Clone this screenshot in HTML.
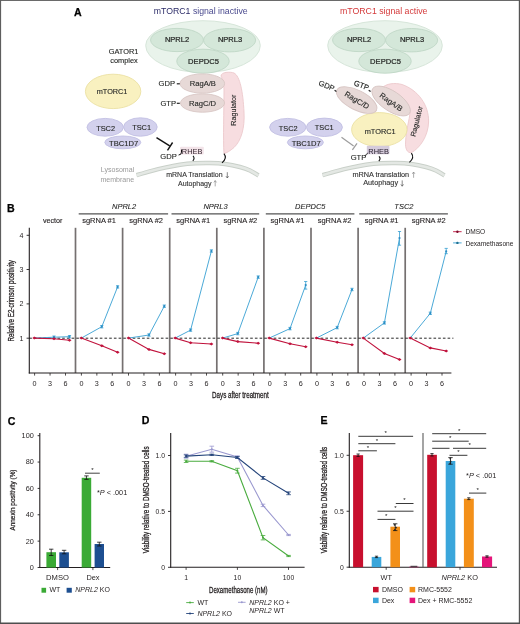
<!DOCTYPE html>
<html><head><meta charset="utf-8"><style>
html,body{margin:0;padding:0;background:#fff;}
svg{display:block;font-family:"Liberation Sans", sans-serif;will-change:transform;}
</style></head><body>
<svg width="520" height="624" viewBox="0 0 520 624">
<rect x="0" y="0" width="520" height="624" fill="#fff"/>
<text x="74.0" y="15.8" font-size="10.6" text-anchor="start" fill="#000" stroke="#000" stroke-width="0.25" font-weight="bold" >A</text>
<text x="153.8" y="14.2" font-size="8.72" text-anchor="start" fill="#4a4a8e" ><tspan fill="#2c2c68">mTORC1</tspan> signal inactive</text>
<text x="340" y="14.2" font-size="8.75" text-anchor="start" fill="#d4393a" >mTORC1 signal active</text>
<path d="M145.7 45.5 A57.3 24.8 0 0 1 260.3 45.5 A57.3 27 0 0 1 145.7 45.5 Z" fill="#e9f3eb" stroke="#d7e6da" stroke-width="1" />
<ellipse cx="177" cy="40" rx="26.4" ry="11.6" fill="#d4e7d9" stroke="#c0d7c6" stroke-width="0.9" />
<ellipse cx="229.6" cy="40.2" rx="26" ry="11.7" fill="#d4e7d9" stroke="#c0d7c6" stroke-width="0.9" />
<ellipse cx="203" cy="61.2" rx="26.2" ry="12" fill="#d4e7d9" stroke="#c0d7c6" stroke-width="0.9" />
<text x="177" y="42.4" font-size="7.5" text-anchor="middle" fill="#262826" stroke="#262826" stroke-width="0.22" >NPRL2</text>
<text x="230" y="42.4" font-size="7.5" text-anchor="middle" fill="#262826" stroke="#262826" stroke-width="0.22" >NPRL3</text>
<text x="203.5" y="63.5" font-size="7.6" text-anchor="middle" fill="#262826" stroke="#262826" stroke-width="0.22" >DEPDC5</text>
<path d="M327.7 45.5 A57.3 24.8 0 0 1 442.3 45.5 A57.3 27 0 0 1 327.7 45.5 Z" fill="#e9f3eb" stroke="#d7e6da" stroke-width="1" />
<ellipse cx="359" cy="40" rx="26.4" ry="11.6" fill="#d4e7d9" stroke="#c0d7c6" stroke-width="0.9" />
<ellipse cx="411.6" cy="40.2" rx="26" ry="11.7" fill="#d4e7d9" stroke="#c0d7c6" stroke-width="0.9" />
<ellipse cx="385" cy="61.2" rx="26.2" ry="12" fill="#d4e7d9" stroke="#c0d7c6" stroke-width="0.9" />
<text x="359" y="42.4" font-size="7.5" text-anchor="middle" fill="#262826" stroke="#262826" stroke-width="0.22" >NPRL2</text>
<text x="412" y="42.4" font-size="7.5" text-anchor="middle" fill="#262826" stroke="#262826" stroke-width="0.22" >NPRL3</text>
<text x="385.5" y="63.5" font-size="7.6" text-anchor="middle" fill="#262826" stroke="#262826" stroke-width="0.22" >DEPDC5</text>
<text x="123.6" y="53.8" font-size="7.4" text-anchor="middle" fill="#262826" stroke="#262826" stroke-width="0.12" >GATOR1</text>
<text x="124" y="62.8" font-size="7.4" text-anchor="middle" fill="#262826" stroke="#262826" stroke-width="0.12" >complex</text>
<ellipse cx="113.1" cy="91.4" rx="27.7" ry="17.2" fill="#f9f1c0" stroke="#ebe1a4" stroke-width="0.9" />
<text x="112.1" y="94.2" font-size="7.3" text-anchor="middle" fill="#262826" stroke="#262826" stroke-width="0.12" >mTORC1</text>
<path d="M221 76 C221 72 230 71.5 234 73 C240 76 243 92 244 112 C245 128 241 141 234 147.5 C230 151 226.5 153 224 153.6 C223 140 224 110 224 90 C224 84 223 79 221 76 Z" fill="#f7dde0" stroke="#ecc8cc" stroke-width="0.9" />
<text x="0" y="0" font-size="7.2" text-anchor="middle" fill="#262826" stroke="#262826" stroke-width="0.12" transform="translate(235.6 110.2) rotate(-90)">Ragulator</text>
<ellipse cx="202.3" cy="83.5" rx="22.3" ry="9.6" fill="#e7d9d7" stroke="#d8c6c4" stroke-width="0.9" />
<ellipse cx="202.5" cy="103" rx="22" ry="9.2" fill="#e7d9d7" stroke="#d8c6c4" stroke-width="0.9" />
<text x="202.8" y="85.9" font-size="7.6" text-anchor="middle" fill="#262826" stroke="#262826" stroke-width="0.12" >RagA/B</text>
<text x="202.6" y="105.9" font-size="7.6" text-anchor="middle" fill="#262826" stroke="#262826" stroke-width="0.12" >RagC/D</text>
<text x="158.6" y="86.1" font-size="7.6" text-anchor="start" fill="#262826" stroke="#262826" stroke-width="0.12" >GDP</text>
<text x="160.4" y="105.9" font-size="7.6" text-anchor="start" fill="#262826" stroke="#262826" stroke-width="0.12" >GTP</text>
<line x1="176.80" y1="83.80" x2="179.80" y2="83.80" stroke="#222" stroke-width="1.2" />
<line x1="176.80" y1="103.30" x2="179.80" y2="103.30" stroke="#222" stroke-width="1.2" />
<ellipse cx="105.2" cy="127.3" rx="18.2" ry="8.9" fill="#d3d1ed" stroke="#c2bfe3" stroke-width="0.9" />
<ellipse cx="140.4" cy="127.0" rx="16.8" ry="9.2" fill="#d3d1ed" stroke="#c2bfe3" stroke-width="0.9" />
<ellipse cx="122.8" cy="142.4" rx="18" ry="6.4" fill="#d3d1ed" stroke="#c2bfe3" stroke-width="0.9" />
<text x="105.6" y="130.8" font-size="7.4" text-anchor="middle" fill="#262826" stroke="#262826" stroke-width="0.12" >TSC2</text>
<text x="141.6" y="130.3" font-size="7.4" text-anchor="middle" fill="#262826" stroke="#262826" stroke-width="0.12" >TSC1</text>
<text x="123.6" y="145.5" font-size="7.6" text-anchor="middle" fill="#262826" stroke="#262826" stroke-width="0.12" >TBC1D7</text>
<line x1="156.50" y1="137.70" x2="169.70" y2="145.90" stroke="#111" stroke-width="1.4" />
<line x1="172.60" y1="142.50" x2="167.50" y2="150.40" stroke="#111" stroke-width="1.4" />
<path d="M136.50 175.20 C138.75 174.55 145.25 172.57 150.00 171.30 C154.75 170.03 160.00 168.68 165.00 167.60 C170.00 166.52 175.00 165.52 180.00 164.80 C185.00 164.08 190.00 163.60 195.00 163.30 C200.00 163.00 205.00 162.88 210.00 163.00 C215.00 163.12 220.00 163.33 225.00 164.00 C230.00 164.67 235.83 165.92 240.00 167.00 C244.17 168.08 246.92 169.08 250.00 170.50 C253.08 171.92 257.08 174.67 258.50 175.50" fill="none" stroke="#c9d0c9" stroke-width="4.4" />
<path d="M136.50 175.20 C138.75 174.55 145.25 172.57 150.00 171.30 C154.75 170.03 160.00 168.68 165.00 167.60 C170.00 166.52 175.00 165.52 180.00 164.80 C185.00 164.08 190.00 163.60 195.00 163.30 C200.00 163.00 205.00 162.88 210.00 163.00 C215.00 163.12 220.00 163.33 225.00 164.00 C230.00 164.67 235.83 165.92 240.00 167.00 C244.17 168.08 246.92 169.08 250.00 170.50 C253.08 171.92 257.08 174.67 258.50 175.50" fill="none" stroke="#e4e8e4" stroke-width="2.5" />
<text x="100.8" y="172.3" font-size="7.05" text-anchor="start" fill="#9a9a9a" >Lysosomal</text>
<text x="100.4" y="181.5" font-size="7.05" text-anchor="start" fill="#9a9a9a" >membrane</text>
<rect x="180.00" y="146.80" width="23.80" height="7.80" fill="#f3e4e9" rx="1"/>
<text x="192.1" y="154.0" font-size="7.4" text-anchor="middle" fill="#3a2a35" >RHEB</text>
<text x="160.3" y="159.3" font-size="7.6" text-anchor="start" fill="#262826" stroke="#262826" stroke-width="0.12" >GDP</text>
<path d="M178.6 155.0 Q181.6 154.8 181.5 152.2 L181.5 149.5" fill="none" stroke="#111" stroke-width="1.0" />
<path d="M193.0 155.8 Q195.2 158.3 192.79999999999998 160.8" fill="none" stroke="#111" stroke-width="1.1" />
<path d="M223.9 153.6 Q227.6 158 222.0 162.8" fill="none" stroke="#111" stroke-width="1.1" />
<text x="166.2" y="177.3" font-size="7" text-anchor="start" fill="#333" stroke="#333" stroke-width="0.12" >mRNA Translation</text>
<line x1="227.30" y1="172.20" x2="227.30" y2="178.00" stroke="#555" stroke-width="0.7" />
<path d="M226.0 176.2 L227.3 178 L228.60000000000002 176.2" fill="none" stroke="#555" stroke-width="0.7" />
<text x="178" y="185.8" font-size="7" text-anchor="start" fill="#333" stroke="#333" stroke-width="0.12" >Autophagy</text>
<line x1="215.20" y1="180.60" x2="215.20" y2="186.40" stroke="#888" stroke-width="0.7" />
<path d="M213.89999999999998 182.4 L215.2 180.6 L216.5 182.4" fill="none" stroke="#888" stroke-width="0.7" />
<ellipse cx="287.8" cy="127.3" rx="18.2" ry="8.9" fill="#d3d1ed" stroke="#c2bfe3" stroke-width="0.9" />
<ellipse cx="324.4" cy="127.3" rx="18.0" ry="9.2" fill="#d3d1ed" stroke="#c2bfe3" stroke-width="0.9" />
<ellipse cx="305.4" cy="142.4" rx="18" ry="6.4" fill="#d3d1ed" stroke="#c2bfe3" stroke-width="0.9" />
<text x="288.2" y="130.8" font-size="7.4" text-anchor="middle" fill="#262826" stroke="#262826" stroke-width="0.12" >TSC2</text>
<text x="324.2" y="130.3" font-size="7.4" text-anchor="middle" fill="#262826" stroke="#262826" stroke-width="0.12" >TSC1</text>
<text x="306.2" y="145.5" font-size="7.6" text-anchor="middle" fill="#262826" stroke="#262826" stroke-width="0.12" >TBC1D7</text>
<path d="M382 88 C386 83.5 395 82.5 402 84.5 C418 90 429 105 428.6 122 C428.2 136 420 148 411.5 152.6 C407 153.4 405 148 405.6 142 C406 130 409.5 120 410 112 C406 100 394 92 382 88 Z" fill="#f7dde0" stroke="#ecc8cc" stroke-width="0.9" />
<text x="0" y="0" font-size="7.2" text-anchor="middle" fill="#262826" stroke="#262826" stroke-width="0.12" transform="translate(419 122) rotate(-76)">Ragulator</text>
<ellipse cx="379.3" cy="129.6" rx="27.7" ry="17" fill="#f9f1c0" stroke="#ebe1a4" stroke-width="0.9" />
<text x="380.2" y="133.5" font-size="7.4" text-anchor="middle" fill="#262826" stroke="#262826" stroke-width="0.12" >mTORC1</text>
<ellipse cx="0" cy="0" rx="22.2" ry="9.7" fill="#e7d9d7" stroke="#d8c6c4" stroke-width="0.9" transform="translate(356.7 100.1) rotate(27)"/>
<ellipse cx="0" cy="0" rx="22.2" ry="9.9" fill="#e7d9d7" stroke="#d8c6c4" stroke-width="0.9" transform="translate(391.1 101.0) rotate(34)"/>
<text x="0" y="2.6" font-size="7.6" text-anchor="middle" fill="#262826" stroke="#262826" stroke-width="0.12" transform="translate(357 100.2) rotate(31)">RagC/D</text>
<text x="0" y="2.6" font-size="7.6" text-anchor="middle" fill="#262826" stroke="#262826" stroke-width="0.12" transform="translate(391.2 102) rotate(36)">RagA/B</text>
<text x="0" y="0" font-size="7.6" text-anchor="start" fill="#262826" stroke="#262826" stroke-width="0.12" transform="translate(317.9 85.0) rotate(22)">GDP</text>
<text x="0" y="0" font-size="7.6" text-anchor="start" fill="#262826" stroke="#262826" stroke-width="0.12" transform="translate(353.2 85.0) rotate(21)">GTP</text>
<line x1="334.60" y1="90.20" x2="336.40" y2="91.40" stroke="#222" stroke-width="1.2" />
<line x1="368.70" y1="90.30" x2="370.60" y2="91.50" stroke="#222" stroke-width="1.2" />
<line x1="341.50" y1="137.30" x2="353.60" y2="145.90" stroke="#9c9c9c" stroke-width="1.2" />
<line x1="357.00" y1="143.40" x2="352.40" y2="149.80" stroke="#9c9c9c" stroke-width="1.2" />
<path d="M322.50 175.20 C324.75 174.55 331.25 172.57 336.00 171.30 C340.75 170.03 346.00 168.68 351.00 167.60 C356.00 166.52 361.00 165.52 366.00 164.80 C371.00 164.08 376.00 163.60 381.00 163.30 C386.00 163.00 391.00 162.88 396.00 163.00 C401.00 163.12 406.00 163.33 411.00 164.00 C416.00 164.67 421.83 165.92 426.00 167.00 C430.17 168.08 432.92 169.08 436.00 170.50 C439.08 171.92 443.08 174.67 444.50 175.50" fill="none" stroke="#c9d0c9" stroke-width="4.4" />
<path d="M322.50 175.20 C324.75 174.55 331.25 172.57 336.00 171.30 C340.75 170.03 346.00 168.68 351.00 167.60 C356.00 166.52 361.00 165.52 366.00 164.80 C371.00 164.08 376.00 163.60 381.00 163.30 C386.00 163.00 391.00 162.88 396.00 163.00 C401.00 163.12 406.00 163.33 411.00 164.00 C416.00 164.67 421.83 165.92 426.00 167.00 C430.17 168.08 432.92 169.08 436.00 170.50 C439.08 171.92 443.08 174.67 444.50 175.50" fill="none" stroke="#e4e8e4" stroke-width="2.5" />
<rect x="366.80" y="145.80" width="22.60" height="8.40" fill="#d5cbdb" rx="1"/>
<text x="378.6" y="154.0" font-size="7.4" text-anchor="middle" fill="#2a2230" >RHEB</text>
<text x="350.7" y="160.4" font-size="7.6" text-anchor="start" fill="#262826" stroke="#262826" stroke-width="0.12" >GTP</text>
<path d="M364.6 155.6 Q367.2 155.2 367.6 152.8" fill="none" stroke="#222" stroke-width="0.9" />
<path d="M379.0 156.3 Q381.20000000000005 158.65 378.8 161" fill="none" stroke="#111" stroke-width="1.1" />
<path d="M411.4 153.2 Q414.8 157.8 409.4 162.4" fill="none" stroke="#111" stroke-width="1.1" />
<text x="352.4" y="177.2" font-size="7.3" text-anchor="start" fill="#333" stroke="#333" stroke-width="0.12" >mRNA translation</text>
<line x1="413.60" y1="172.00" x2="413.60" y2="177.80" stroke="#888" stroke-width="0.7" />
<path d="M412.3 173.8 L413.6 172.0 L414.90000000000003 173.8" fill="none" stroke="#888" stroke-width="0.7" />
<text x="363.2" y="185.4" font-size="7.3" text-anchor="start" fill="#333" stroke="#333" stroke-width="0.12" >Autophagy</text>
<line x1="402.20" y1="180.40" x2="402.20" y2="186.20" stroke="#555" stroke-width="0.7" />
<path d="M400.9 184.39999999999998 L402.2 186.2 L403.5 184.39999999999998" fill="none" stroke="#555" stroke-width="0.7" />
<text x="6.9" y="212.0" font-size="10.6" text-anchor="start" fill="#000" stroke="#000" stroke-width="0.25" font-weight="bold" >B</text>
<line x1="75.50" y1="227.80" x2="75.50" y2="373.00" stroke="#757070" stroke-width="1.7" />
<line x1="122.60" y1="227.80" x2="122.60" y2="373.00" stroke="#757070" stroke-width="1.7" />
<line x1="169.70" y1="227.80" x2="169.70" y2="373.00" stroke="#757070" stroke-width="1.7" />
<line x1="216.80" y1="227.80" x2="216.80" y2="373.00" stroke="#757070" stroke-width="1.7" />
<line x1="263.90" y1="227.80" x2="263.90" y2="373.00" stroke="#757070" stroke-width="1.7" />
<line x1="311.00" y1="227.80" x2="311.00" y2="373.00" stroke="#757070" stroke-width="1.7" />
<line x1="358.10" y1="227.80" x2="358.10" y2="373.00" stroke="#757070" stroke-width="1.7" />
<line x1="405.20" y1="227.80" x2="405.20" y2="373.00" stroke="#757070" stroke-width="1.7" />
<line x1="29.30" y1="227.80" x2="29.30" y2="373.60" stroke="#231f20" stroke-width="1.1" />
<line x1="28.80" y1="373.00" x2="451.40" y2="373.00" stroke="#231f20" stroke-width="1.1" />
<line x1="26.60" y1="338.20" x2="29.30" y2="338.20" stroke="#231f20" stroke-width="0.9" />
<text x="23.5" y="340.7" font-size="7.1" text-anchor="end" fill="#231f20" >1</text>
<line x1="26.60" y1="303.90" x2="29.30" y2="303.90" stroke="#231f20" stroke-width="0.9" />
<text x="23.5" y="306.4" font-size="7.1" text-anchor="end" fill="#231f20" >2</text>
<line x1="26.60" y1="269.50" x2="29.30" y2="269.50" stroke="#231f20" stroke-width="0.9" />
<text x="23.5" y="272.0" font-size="7.1" text-anchor="end" fill="#231f20" >3</text>
<line x1="26.60" y1="235.30" x2="29.30" y2="235.30" stroke="#231f20" stroke-width="0.9" />
<text x="23.5" y="237.8" font-size="7.1" text-anchor="end" fill="#231f20" >4</text>
<line x1="29.30" y1="338.20" x2="453.40" y2="338.20" stroke="#111" stroke-width="0.9" stroke-dasharray="2.6 2.1"/>
<line x1="34.60" y1="373.00" x2="34.60" y2="375.60" stroke="#231f20" stroke-width="0.8" />
<text x="34.6" y="385.5" font-size="7.2" text-anchor="middle" fill="#231f20" >0</text>
<line x1="50.05" y1="373.00" x2="50.05" y2="375.60" stroke="#231f20" stroke-width="0.8" />
<text x="50.050000000000004" y="385.5" font-size="7.2" text-anchor="middle" fill="#231f20" >3</text>
<line x1="65.50" y1="373.00" x2="65.50" y2="375.60" stroke="#231f20" stroke-width="0.8" />
<text x="65.5" y="385.5" font-size="7.2" text-anchor="middle" fill="#231f20" >6</text>
<line x1="81.40" y1="373.00" x2="81.40" y2="375.60" stroke="#231f20" stroke-width="0.8" />
<text x="81.4" y="385.5" font-size="7.2" text-anchor="middle" fill="#231f20" >0</text>
<line x1="96.85" y1="373.00" x2="96.85" y2="375.60" stroke="#231f20" stroke-width="0.8" />
<text x="96.85000000000001" y="385.5" font-size="7.2" text-anchor="middle" fill="#231f20" >3</text>
<line x1="112.30" y1="373.00" x2="112.30" y2="375.60" stroke="#231f20" stroke-width="0.8" />
<text x="112.30000000000001" y="385.5" font-size="7.2" text-anchor="middle" fill="#231f20" >6</text>
<line x1="128.50" y1="373.00" x2="128.50" y2="375.60" stroke="#231f20" stroke-width="0.8" />
<text x="128.5" y="385.5" font-size="7.2" text-anchor="middle" fill="#231f20" >0</text>
<line x1="143.95" y1="373.00" x2="143.95" y2="375.60" stroke="#231f20" stroke-width="0.8" />
<text x="143.95" y="385.5" font-size="7.2" text-anchor="middle" fill="#231f20" >3</text>
<line x1="159.40" y1="373.00" x2="159.40" y2="375.60" stroke="#231f20" stroke-width="0.8" />
<text x="159.4" y="385.5" font-size="7.2" text-anchor="middle" fill="#231f20" >6</text>
<line x1="175.60" y1="373.00" x2="175.60" y2="375.60" stroke="#231f20" stroke-width="0.8" />
<text x="175.6" y="385.5" font-size="7.2" text-anchor="middle" fill="#231f20" >0</text>
<line x1="191.05" y1="373.00" x2="191.05" y2="375.60" stroke="#231f20" stroke-width="0.8" />
<text x="191.04999999999998" y="385.5" font-size="7.2" text-anchor="middle" fill="#231f20" >3</text>
<line x1="206.50" y1="373.00" x2="206.50" y2="375.60" stroke="#231f20" stroke-width="0.8" />
<text x="206.5" y="385.5" font-size="7.2" text-anchor="middle" fill="#231f20" >6</text>
<line x1="222.70" y1="373.00" x2="222.70" y2="375.60" stroke="#231f20" stroke-width="0.8" />
<text x="222.70000000000002" y="385.5" font-size="7.2" text-anchor="middle" fill="#231f20" >0</text>
<line x1="238.15" y1="373.00" x2="238.15" y2="375.60" stroke="#231f20" stroke-width="0.8" />
<text x="238.15" y="385.5" font-size="7.2" text-anchor="middle" fill="#231f20" >3</text>
<line x1="253.60" y1="373.00" x2="253.60" y2="375.60" stroke="#231f20" stroke-width="0.8" />
<text x="253.60000000000002" y="385.5" font-size="7.2" text-anchor="middle" fill="#231f20" >6</text>
<line x1="269.80" y1="373.00" x2="269.80" y2="375.60" stroke="#231f20" stroke-width="0.8" />
<text x="269.79999999999995" y="385.5" font-size="7.2" text-anchor="middle" fill="#231f20" >0</text>
<line x1="285.25" y1="373.00" x2="285.25" y2="375.60" stroke="#231f20" stroke-width="0.8" />
<text x="285.24999999999994" y="385.5" font-size="7.2" text-anchor="middle" fill="#231f20" >3</text>
<line x1="300.70" y1="373.00" x2="300.70" y2="375.60" stroke="#231f20" stroke-width="0.8" />
<text x="300.69999999999993" y="385.5" font-size="7.2" text-anchor="middle" fill="#231f20" >6</text>
<line x1="316.90" y1="373.00" x2="316.90" y2="375.60" stroke="#231f20" stroke-width="0.8" />
<text x="316.9" y="385.5" font-size="7.2" text-anchor="middle" fill="#231f20" >0</text>
<line x1="332.35" y1="373.00" x2="332.35" y2="375.60" stroke="#231f20" stroke-width="0.8" />
<text x="332.34999999999997" y="385.5" font-size="7.2" text-anchor="middle" fill="#231f20" >3</text>
<line x1="347.80" y1="373.00" x2="347.80" y2="375.60" stroke="#231f20" stroke-width="0.8" />
<text x="347.79999999999995" y="385.5" font-size="7.2" text-anchor="middle" fill="#231f20" >6</text>
<line x1="364.00" y1="373.00" x2="364.00" y2="375.60" stroke="#231f20" stroke-width="0.8" />
<text x="364.0" y="385.5" font-size="7.2" text-anchor="middle" fill="#231f20" >0</text>
<line x1="379.45" y1="373.00" x2="379.45" y2="375.60" stroke="#231f20" stroke-width="0.8" />
<text x="379.45" y="385.5" font-size="7.2" text-anchor="middle" fill="#231f20" >3</text>
<line x1="394.90" y1="373.00" x2="394.90" y2="375.60" stroke="#231f20" stroke-width="0.8" />
<text x="394.9" y="385.5" font-size="7.2" text-anchor="middle" fill="#231f20" >6</text>
<line x1="411.10" y1="373.00" x2="411.10" y2="375.60" stroke="#231f20" stroke-width="0.8" />
<text x="411.09999999999997" y="385.5" font-size="7.2" text-anchor="middle" fill="#231f20" >0</text>
<line x1="426.55" y1="373.00" x2="426.55" y2="375.60" stroke="#231f20" stroke-width="0.8" />
<text x="426.54999999999995" y="385.5" font-size="7.2" text-anchor="middle" fill="#231f20" >3</text>
<line x1="442.00" y1="373.00" x2="442.00" y2="375.60" stroke="#231f20" stroke-width="0.8" />
<text x="441.99999999999994" y="385.5" font-size="7.2" text-anchor="middle" fill="#231f20" >6</text>
<text x="0" y="0" font-size="9.3" text-anchor="start" fill="#231f20" stroke="#231f20" stroke-width="0.3" transform="translate(212 398.3)" textLength="56.8" lengthAdjust="spacingAndGlyphs">Days after treatment</text>
<text x="0" y="0" font-size="8.2" text-anchor="middle" fill="#231f20" stroke="#231f20" stroke-width="0.28" transform="translate(13.7 300.8) rotate(-90)" textLength="81.6" lengthAdjust="spacingAndGlyphs">Relative E2-crimson positivity</text>
<text x="52.7" y="223.4" font-size="7.2" text-anchor="middle" fill="#231f20" stroke="#231f20" stroke-width="0.12" >vector</text>
<text x="99.05" y="223.3" font-size="7.5" text-anchor="middle" fill="#231f20" stroke="#231f20" stroke-width="0.12" >sgRNA #1</text>
<text x="146.14999999999998" y="223.3" font-size="7.5" text-anchor="middle" fill="#231f20" stroke="#231f20" stroke-width="0.12" >sgRNA #2</text>
<text x="193.25" y="223.3" font-size="7.5" text-anchor="middle" fill="#231f20" stroke="#231f20" stroke-width="0.12" >sgRNA #1</text>
<text x="240.35" y="223.3" font-size="7.5" text-anchor="middle" fill="#231f20" stroke="#231f20" stroke-width="0.12" >sgRNA #2</text>
<text x="287.45" y="223.3" font-size="7.5" text-anchor="middle" fill="#231f20" stroke="#231f20" stroke-width="0.12" >sgRNA #1</text>
<text x="334.55" y="223.3" font-size="7.5" text-anchor="middle" fill="#231f20" stroke="#231f20" stroke-width="0.12" >sgRNA #2</text>
<text x="381.65" y="223.3" font-size="7.5" text-anchor="middle" fill="#231f20" stroke="#231f20" stroke-width="0.12" >sgRNA #1</text>
<text x="428.7" y="223.3" font-size="7.5" text-anchor="middle" fill="#231f20" stroke="#231f20" stroke-width="0.12" >sgRNA #2</text>
<text x="124.1" y="209.4" font-size="7.5" text-anchor="middle" fill="#1f1f1f" stroke="#1f1f1f" stroke-width="0.08" font-style="italic" >NPRL2</text>
<line x1="78.70" y1="213.80" x2="168.10" y2="213.80" stroke="#555" stroke-width="1.2" />
<text x="215.5" y="209.4" font-size="7.5" text-anchor="middle" fill="#1f1f1f" stroke="#1f1f1f" stroke-width="0.08" font-style="italic" >NPRL3</text>
<line x1="171.50" y1="213.80" x2="259.20" y2="213.80" stroke="#555" stroke-width="1.2" />
<text x="310.3" y="209.4" font-size="7.5" text-anchor="middle" fill="#1f1f1f" stroke="#1f1f1f" stroke-width="0.08" font-style="italic" >DEPDC5</text>
<line x1="265.80" y1="213.80" x2="354.40" y2="213.80" stroke="#555" stroke-width="1.2" />
<text x="403.9" y="209.4" font-size="7.5" text-anchor="middle" fill="#1f1f1f" stroke="#1f1f1f" stroke-width="0.08" font-style="italic" >TSC2</text>
<line x1="359.20" y1="213.80" x2="447.90" y2="213.80" stroke="#555" stroke-width="1.2" />
<polyline points="34.3,338.1 54.0,337.2 69.5,336.7" fill="none" stroke="#379fd2" stroke-width="0.9"/>
<polyline points="34.3,338.1 54.0,338.7 69.5,340.2" fill="none" stroke="#c0123c" stroke-width="1.1"/>
<line x1="54.00" y1="336.00" x2="54.00" y2="338.40" stroke="#379fd2" stroke-width="0.8" />
<line x1="52.40" y1="336.00" x2="55.60" y2="336.00" stroke="#379fd2" stroke-width="0.8" />
<line x1="52.40" y1="338.40" x2="55.60" y2="338.40" stroke="#379fd2" stroke-width="0.8" />
<circle cx="54.0" cy="337.2" r="1.1" fill="#2a8cc4"/>
<line x1="69.50" y1="335.50" x2="69.50" y2="337.90" stroke="#379fd2" stroke-width="0.8" />
<line x1="67.90" y1="335.50" x2="71.10" y2="335.50" stroke="#379fd2" stroke-width="0.8" />
<line x1="67.90" y1="337.90" x2="71.10" y2="337.90" stroke="#379fd2" stroke-width="0.8" />
<circle cx="69.5" cy="336.7" r="1.1" fill="#2a8cc4"/>
<path d="M32.3 338.1 L34.3 336.6 L36.3 338.1 L34.3 339.6 Z" fill="#c0123c"/>
<path d="M52.0 338.7 L54.0 337.2 L56.0 338.7 L54.0 340.2 Z" fill="#c0123c"/>
<path d="M67.5 340.2 L69.5 338.7 L71.5 340.2 L69.5 341.7 Z" fill="#c0123c"/>
<polyline points="81.3,338.1 101.8,326.7 117.6,286.9" fill="none" stroke="#379fd2" stroke-width="0.9"/>
<polyline points="81.3,338.1 101.8,345.8 117.6,352.2" fill="none" stroke="#c0123c" stroke-width="1.1"/>
<line x1="101.80" y1="325.50" x2="101.80" y2="327.90" stroke="#379fd2" stroke-width="0.8" />
<line x1="100.20" y1="325.50" x2="103.40" y2="325.50" stroke="#379fd2" stroke-width="0.8" />
<line x1="100.20" y1="327.90" x2="103.40" y2="327.90" stroke="#379fd2" stroke-width="0.8" />
<circle cx="101.8" cy="326.7" r="1.1" fill="#2a8cc4"/>
<line x1="117.60" y1="285.70" x2="117.60" y2="288.10" stroke="#379fd2" stroke-width="0.8" />
<line x1="116.00" y1="285.70" x2="119.20" y2="285.70" stroke="#379fd2" stroke-width="0.8" />
<line x1="116.00" y1="288.10" x2="119.20" y2="288.10" stroke="#379fd2" stroke-width="0.8" />
<circle cx="117.6" cy="286.9" r="1.1" fill="#2a8cc4"/>
<path d="M79.3 338.1 L81.3 336.6 L83.3 338.1 L81.3 339.6 Z" fill="#c0123c"/>
<path d="M99.8 345.8 L101.8 344.3 L103.8 345.8 L101.8 347.3 Z" fill="#c0123c"/>
<path d="M115.6 352.2 L117.6 350.7 L119.6 352.2 L117.6 353.7 Z" fill="#c0123c"/>
<polyline points="128.5,338.1 149.0,335.0 164.3,306.2" fill="none" stroke="#379fd2" stroke-width="0.9"/>
<polyline points="128.5,338.1 149.0,349.4 164.3,353.8" fill="none" stroke="#c0123c" stroke-width="1.1"/>
<line x1="149.00" y1="333.80" x2="149.00" y2="336.20" stroke="#379fd2" stroke-width="0.8" />
<line x1="147.40" y1="333.80" x2="150.60" y2="333.80" stroke="#379fd2" stroke-width="0.8" />
<line x1="147.40" y1="336.20" x2="150.60" y2="336.20" stroke="#379fd2" stroke-width="0.8" />
<circle cx="149.0" cy="335.0" r="1.1" fill="#2a8cc4"/>
<line x1="164.30" y1="305.00" x2="164.30" y2="307.40" stroke="#379fd2" stroke-width="0.8" />
<line x1="162.70" y1="305.00" x2="165.90" y2="305.00" stroke="#379fd2" stroke-width="0.8" />
<line x1="162.70" y1="307.40" x2="165.90" y2="307.40" stroke="#379fd2" stroke-width="0.8" />
<circle cx="164.3" cy="306.2" r="1.1" fill="#2a8cc4"/>
<path d="M126.5 338.1 L128.5 336.6 L130.5 338.1 L128.5 339.6 Z" fill="#c0123c"/>
<path d="M147.0 349.4 L149.0 347.9 L151.0 349.4 L149.0 350.9 Z" fill="#c0123c"/>
<path d="M162.3 353.8 L164.3 352.3 L166.3 353.8 L164.3 355.3 Z" fill="#c0123c"/>
<polyline points="175.2,338.1 190.6,330.1 211.4,251.0" fill="none" stroke="#379fd2" stroke-width="0.9"/>
<polyline points="175.2,338.1 190.6,342.8 211.4,344.0" fill="none" stroke="#c0123c" stroke-width="1.1"/>
<line x1="190.60" y1="328.90" x2="190.60" y2="331.30" stroke="#379fd2" stroke-width="0.8" />
<line x1="189.00" y1="328.90" x2="192.20" y2="328.90" stroke="#379fd2" stroke-width="0.8" />
<line x1="189.00" y1="331.30" x2="192.20" y2="331.30" stroke="#379fd2" stroke-width="0.8" />
<circle cx="190.6" cy="330.1" r="1.1" fill="#2a8cc4"/>
<line x1="211.40" y1="249.80" x2="211.40" y2="252.20" stroke="#379fd2" stroke-width="0.8" />
<line x1="209.80" y1="249.80" x2="213.00" y2="249.80" stroke="#379fd2" stroke-width="0.8" />
<line x1="209.80" y1="252.20" x2="213.00" y2="252.20" stroke="#379fd2" stroke-width="0.8" />
<circle cx="211.4" cy="251.0" r="1.1" fill="#2a8cc4"/>
<path d="M173.2 338.1 L175.2 336.6 L177.2 338.1 L175.2 339.6 Z" fill="#c0123c"/>
<path d="M188.6 342.8 L190.6 341.3 L192.6 342.8 L190.6 344.3 Z" fill="#c0123c"/>
<path d="M209.4 344.0 L211.4 342.5 L213.4 344.0 L211.4 345.5 Z" fill="#c0123c"/>
<polyline points="222.6,338.1 237.8,333.6 258.2,277.1" fill="none" stroke="#379fd2" stroke-width="0.9"/>
<polyline points="222.6,338.1 237.8,341.6 258.2,343.2" fill="none" stroke="#c0123c" stroke-width="1.1"/>
<line x1="237.80" y1="332.40" x2="237.80" y2="334.80" stroke="#379fd2" stroke-width="0.8" />
<line x1="236.20" y1="332.40" x2="239.40" y2="332.40" stroke="#379fd2" stroke-width="0.8" />
<line x1="236.20" y1="334.80" x2="239.40" y2="334.80" stroke="#379fd2" stroke-width="0.8" />
<circle cx="237.8" cy="333.6" r="1.1" fill="#2a8cc4"/>
<line x1="258.20" y1="275.90" x2="258.20" y2="278.30" stroke="#379fd2" stroke-width="0.8" />
<line x1="256.60" y1="275.90" x2="259.80" y2="275.90" stroke="#379fd2" stroke-width="0.8" />
<line x1="256.60" y1="278.30" x2="259.80" y2="278.30" stroke="#379fd2" stroke-width="0.8" />
<circle cx="258.2" cy="277.1" r="1.1" fill="#2a8cc4"/>
<path d="M220.6 338.1 L222.6 336.6 L224.6 338.1 L222.6 339.6 Z" fill="#c0123c"/>
<path d="M235.8 341.6 L237.8 340.1 L239.8 341.6 L237.8 343.1 Z" fill="#c0123c"/>
<path d="M256.2 343.2 L258.2 341.7 L260.2 343.2 L258.2 344.7 Z" fill="#c0123c"/>
<polyline points="269.2,338.1 290.0,328.6 305.7,285.1" fill="none" stroke="#379fd2" stroke-width="0.9"/>
<polyline points="269.2,338.1 290.0,343.8 305.7,346.8" fill="none" stroke="#c0123c" stroke-width="1.1"/>
<line x1="290.00" y1="327.40" x2="290.00" y2="329.80" stroke="#379fd2" stroke-width="0.8" />
<line x1="288.40" y1="327.40" x2="291.60" y2="327.40" stroke="#379fd2" stroke-width="0.8" />
<line x1="288.40" y1="329.80" x2="291.60" y2="329.80" stroke="#379fd2" stroke-width="0.8" />
<circle cx="290.0" cy="328.6" r="1.1" fill="#2a8cc4"/>
<line x1="305.70" y1="281.50" x2="305.70" y2="289.10" stroke="#379fd2" stroke-width="0.8" />
<line x1="304.10" y1="281.50" x2="307.30" y2="281.50" stroke="#379fd2" stroke-width="0.8" />
<line x1="304.10" y1="289.10" x2="307.30" y2="289.10" stroke="#379fd2" stroke-width="0.8" />
<circle cx="305.7" cy="285.1" r="1.1" fill="#2a8cc4"/>
<path d="M267.2 338.1 L269.2 336.6 L271.2 338.1 L269.2 339.6 Z" fill="#c0123c"/>
<path d="M288.0 343.8 L290.0 342.3 L292.0 343.8 L290.0 345.3 Z" fill="#c0123c"/>
<path d="M303.7 346.8 L305.7 345.3 L307.7 346.8 L305.7 348.3 Z" fill="#c0123c"/>
<polyline points="316.4,338.1 337.2,327.6 352.0,289.5" fill="none" stroke="#379fd2" stroke-width="0.9"/>
<polyline points="316.4,338.1 337.2,342.2 352.0,344.8" fill="none" stroke="#c0123c" stroke-width="1.1"/>
<line x1="337.20" y1="326.40" x2="337.20" y2="328.80" stroke="#379fd2" stroke-width="0.8" />
<line x1="335.60" y1="326.40" x2="338.80" y2="326.40" stroke="#379fd2" stroke-width="0.8" />
<line x1="335.60" y1="328.80" x2="338.80" y2="328.80" stroke="#379fd2" stroke-width="0.8" />
<circle cx="337.2" cy="327.6" r="1.1" fill="#2a8cc4"/>
<line x1="352.00" y1="288.30" x2="352.00" y2="290.70" stroke="#379fd2" stroke-width="0.8" />
<line x1="350.40" y1="288.30" x2="353.60" y2="288.30" stroke="#379fd2" stroke-width="0.8" />
<line x1="350.40" y1="290.70" x2="353.60" y2="290.70" stroke="#379fd2" stroke-width="0.8" />
<circle cx="352.0" cy="289.5" r="1.1" fill="#2a8cc4"/>
<path d="M314.4 338.1 L316.4 336.6 L318.4 338.1 L316.4 339.6 Z" fill="#c0123c"/>
<path d="M335.2 342.2 L337.2 340.7 L339.2 342.2 L337.2 343.7 Z" fill="#c0123c"/>
<path d="M350.0 344.8 L352.0 343.3 L354.0 344.8 L352.0 346.3 Z" fill="#c0123c"/>
<polyline points="363.3,338.1 384.4,322.9 399.5,238.0" fill="none" stroke="#379fd2" stroke-width="0.9"/>
<polyline points="363.3,338.1 384.4,353.4 399.5,359.4" fill="none" stroke="#c0123c" stroke-width="1.1"/>
<line x1="384.40" y1="321.70" x2="384.40" y2="324.10" stroke="#379fd2" stroke-width="0.8" />
<line x1="382.80" y1="321.70" x2="386.00" y2="321.70" stroke="#379fd2" stroke-width="0.8" />
<line x1="382.80" y1="324.10" x2="386.00" y2="324.10" stroke="#379fd2" stroke-width="0.8" />
<circle cx="384.4" cy="322.9" r="1.1" fill="#2a8cc4"/>
<line x1="399.50" y1="231.50" x2="399.50" y2="245.20" stroke="#379fd2" stroke-width="0.8" />
<line x1="397.90" y1="231.50" x2="401.10" y2="231.50" stroke="#379fd2" stroke-width="0.8" />
<line x1="397.90" y1="245.20" x2="401.10" y2="245.20" stroke="#379fd2" stroke-width="0.8" />
<circle cx="399.5" cy="238.0" r="1.1" fill="#2a8cc4"/>
<path d="M361.3 338.1 L363.3 336.6 L365.3 338.1 L363.3 339.6 Z" fill="#c0123c"/>
<path d="M382.4 353.4 L384.4 351.9 L386.4 353.4 L384.4 354.9 Z" fill="#c0123c"/>
<path d="M397.5 359.4 L399.5 357.9 L401.5 359.4 L399.5 360.9 Z" fill="#c0123c"/>
<polyline points="410.2,338.1 430.3,313.3 446.2,251.3" fill="none" stroke="#379fd2" stroke-width="0.9"/>
<polyline points="410.2,338.1 430.3,347.9 446.2,351.0" fill="none" stroke="#c0123c" stroke-width="1.1"/>
<line x1="430.30" y1="312.10" x2="430.30" y2="314.50" stroke="#379fd2" stroke-width="0.8" />
<line x1="428.70" y1="312.10" x2="431.90" y2="312.10" stroke="#379fd2" stroke-width="0.8" />
<line x1="428.70" y1="314.50" x2="431.90" y2="314.50" stroke="#379fd2" stroke-width="0.8" />
<circle cx="430.3" cy="313.3" r="1.1" fill="#2a8cc4"/>
<line x1="446.20" y1="248.40" x2="446.20" y2="253.70" stroke="#379fd2" stroke-width="0.8" />
<line x1="444.60" y1="248.40" x2="447.80" y2="248.40" stroke="#379fd2" stroke-width="0.8" />
<line x1="444.60" y1="253.70" x2="447.80" y2="253.70" stroke="#379fd2" stroke-width="0.8" />
<circle cx="446.2" cy="251.3" r="1.1" fill="#2a8cc4"/>
<path d="M408.2 338.1 L410.2 336.6 L412.2 338.1 L410.2 339.6 Z" fill="#c0123c"/>
<path d="M428.3 347.9 L430.3 346.4 L432.3 347.9 L430.3 349.4 Z" fill="#c0123c"/>
<path d="M444.2 351.0 L446.2 349.5 L448.2 351.0 L446.2 352.5 Z" fill="#c0123c"/>
<line x1="453.10" y1="231.70" x2="461.60" y2="231.70" stroke="#c0123c" stroke-width="0.9" />
<circle cx="457.4" cy="231.7" r="1.2" fill="#7a0a2a"/>
<text x="465.4" y="234.4" font-size="6.6" text-anchor="start" fill="#231f20" >DMSO</text>
<line x1="453.10" y1="242.90" x2="461.60" y2="242.90" stroke="#379fd2" stroke-width="0.9" />
<circle cx="457.4" cy="242.9" r="1.2" fill="#1f6f8f"/>
<text x="465.4" y="245.6" font-size="6.6" text-anchor="start" fill="#231f20" >Dexamethasone</text>
<text x="7.8" y="424.6" font-size="10.6" text-anchor="start" fill="#000" stroke="#000" stroke-width="0.25" font-weight="bold" >C</text>
<line x1="39.80" y1="433.00" x2="39.80" y2="568.00" stroke="#231f20" stroke-width="1.1" />
<line x1="37.60" y1="567.50" x2="39.80" y2="567.50" stroke="#231f20" stroke-width="0.9" />
<text x="33.8" y="569.9" font-size="7.3" text-anchor="end" fill="#231f20" >0</text>
<line x1="37.60" y1="541.14" x2="39.80" y2="541.14" stroke="#231f20" stroke-width="0.9" />
<text x="33.8" y="543.54" font-size="7.3" text-anchor="end" fill="#231f20" >20</text>
<line x1="37.60" y1="514.78" x2="39.80" y2="514.78" stroke="#231f20" stroke-width="0.9" />
<text x="33.8" y="517.18" font-size="7.3" text-anchor="end" fill="#231f20" >40</text>
<line x1="37.60" y1="488.42" x2="39.80" y2="488.42" stroke="#231f20" stroke-width="0.9" />
<text x="33.8" y="490.82" font-size="7.3" text-anchor="end" fill="#231f20" >60</text>
<line x1="37.60" y1="462.06" x2="39.80" y2="462.06" stroke="#231f20" stroke-width="0.9" />
<text x="33.8" y="464.46" font-size="7.3" text-anchor="end" fill="#231f20" >80</text>
<line x1="37.60" y1="435.70" x2="39.80" y2="435.70" stroke="#231f20" stroke-width="0.9" />
<text x="33.8" y="438.09999999999997" font-size="7.3" text-anchor="end" fill="#231f20" >100</text>
<line x1="39.30" y1="567.50" x2="110.20" y2="567.50" stroke="#231f20" stroke-width="1.1" />
<rect x="46.40" y="552.20" width="9.60" height="15.30" fill="#3aaa35" />
<line x1="51.20" y1="549.20" x2="51.20" y2="555.50" stroke="#111" stroke-width="0.8" />
<line x1="49.00" y1="549.20" x2="53.40" y2="549.20" stroke="#111" stroke-width="0.8" />
<line x1="49.00" y1="555.50" x2="53.40" y2="555.50" stroke="#111" stroke-width="0.8" />
<rect x="59.30" y="552.30" width="9.60" height="15.20" fill="#1d4f91" />
<line x1="64.10" y1="550.30" x2="64.10" y2="553.80" stroke="#111" stroke-width="0.8" />
<line x1="61.90" y1="550.30" x2="66.30" y2="550.30" stroke="#111" stroke-width="0.8" />
<line x1="61.90" y1="553.80" x2="66.30" y2="553.80" stroke="#111" stroke-width="0.8" />
<rect x="81.70" y="477.80" width="9.50" height="89.70" fill="#3aaa35" />
<line x1="86.45" y1="475.90" x2="86.45" y2="479.40" stroke="#111" stroke-width="0.8" />
<line x1="84.25" y1="475.90" x2="88.65" y2="475.90" stroke="#111" stroke-width="0.8" />
<line x1="84.25" y1="479.40" x2="88.65" y2="479.40" stroke="#111" stroke-width="0.8" />
<rect x="94.60" y="544.00" width="9.40" height="23.50" fill="#1d4f91" />
<line x1="99.30" y1="542.20" x2="99.30" y2="546.00" stroke="#111" stroke-width="0.8" />
<line x1="97.10" y1="542.20" x2="101.50" y2="542.20" stroke="#111" stroke-width="0.8" />
<line x1="97.10" y1="546.00" x2="101.50" y2="546.00" stroke="#111" stroke-width="0.8" />
<line x1="57.60" y1="567.50" x2="57.60" y2="570.10" stroke="#231f20" stroke-width="0.8" />
<line x1="92.90" y1="567.50" x2="92.90" y2="570.10" stroke="#231f20" stroke-width="0.8" />
<text x="57.5" y="579.7" font-size="7.6" text-anchor="middle" fill="#231f20" >DMSO</text>
<text x="93.0" y="579.7" font-size="7.4" text-anchor="middle" fill="#231f20" >Dex</text>
<line x1="85.00" y1="473.20" x2="99.80" y2="473.20" stroke="#111" stroke-width="0.8" />
<text x="92.5" y="472.2" font-size="6.2" text-anchor="middle" fill="#111" >*</text>
<text x="97.0" y="494.6" font-size="7.3" text-anchor="start" fill="#231f20" >*<tspan font-style="italic">P</tspan> &lt; .001</text>
<text x="0" y="0" font-size="7.8" text-anchor="middle" fill="#231f20" stroke="#231f20" stroke-width="0.25" transform="translate(15.2 500.0) rotate(-90)" textLength="61" lengthAdjust="spacingAndGlyphs">Annexin positivity (%)</text>
<rect x="41.50" y="587.80" width="4.60" height="4.90" fill="#3aaa35" />
<text x="49.4" y="592.4" font-size="7" text-anchor="start" fill="#231f20" >WT</text>
<rect x="66.60" y="587.80" width="5.20" height="4.90" fill="#1d4f91" />
<text x="75.3" y="592.4" font-size="7" text-anchor="start" fill="#231f20" ><tspan font-style="italic">NPRL2</tspan> KO</text>
<text x="141.7" y="424.2" font-size="10.6" text-anchor="start" fill="#000" stroke="#000" stroke-width="0.25" font-weight="bold" >D</text>
<line x1="170.70" y1="433.00" x2="170.70" y2="567.80" stroke="#231f20" stroke-width="1.1" />
<line x1="168.00" y1="567.30" x2="170.70" y2="567.30" stroke="#231f20" stroke-width="0.9" />
<text x="165.0" y="569.5999999999999" font-size="6.8" text-anchor="end" fill="#231f20" >0</text>
<line x1="168.00" y1="511.40" x2="170.70" y2="511.40" stroke="#231f20" stroke-width="0.9" />
<text x="165.0" y="513.6999999999999" font-size="6.8" text-anchor="end" fill="#231f20" >0.5</text>
<line x1="168.00" y1="455.50" x2="170.70" y2="455.50" stroke="#231f20" stroke-width="0.9" />
<text x="165.0" y="457.79999999999995" font-size="6.8" text-anchor="end" fill="#231f20" >1.0</text>
<line x1="170.20" y1="567.30" x2="304.60" y2="567.30" stroke="#231f20" stroke-width="1.1" />
<line x1="186.10" y1="567.30" x2="186.10" y2="569.90" stroke="#231f20" stroke-width="0.8" />
<text x="186.1" y="579.9" font-size="6.8" text-anchor="middle" fill="#231f20" >1</text>
<line x1="237.40" y1="567.30" x2="237.40" y2="569.90" stroke="#231f20" stroke-width="0.8" />
<text x="237.4" y="579.9" font-size="6.8" text-anchor="middle" fill="#231f20" >10</text>
<line x1="288.50" y1="567.30" x2="288.50" y2="569.90" stroke="#231f20" stroke-width="0.8" />
<text x="288.5" y="579.9" font-size="6.8" text-anchor="middle" fill="#231f20" >100</text>
<text x="0" y="0" font-size="9.3" text-anchor="start" fill="#231f20" stroke="#231f20" stroke-width="0.3" transform="translate(209 592.7)" textLength="58.6" lengthAdjust="spacingAndGlyphs">Dexamethasone (nM)</text>
<text x="0" y="0" font-size="8.3" text-anchor="middle" fill="#231f20" stroke="#231f20" stroke-width="0.28" transform="translate(149.3 499.85) rotate(-90)" textLength="106.8" lengthAdjust="spacingAndGlyphs">Viability relative to DMSO-treated cells</text>
<polyline points="186.1,456.2 211.8,449.2 237.4,457.0 263.0,505.4 288.6,535.0" fill="none" stroke="#9a98cf" stroke-width="1.1"/>
<line x1="186.10" y1="454.20" x2="186.10" y2="458.20" stroke="#9a98cf" stroke-width="0.8" />
<line x1="183.80" y1="454.20" x2="188.40" y2="454.20" stroke="#9a98cf" stroke-width="0.8" />
<line x1="183.80" y1="458.20" x2="188.40" y2="458.20" stroke="#9a98cf" stroke-width="0.8" />
<circle cx="186.1" cy="456.2" r="1.0" fill="#9a98cf"/>
<line x1="211.80" y1="446.20" x2="211.80" y2="452.20" stroke="#9a98cf" stroke-width="0.8" />
<line x1="209.50" y1="446.20" x2="214.10" y2="446.20" stroke="#9a98cf" stroke-width="0.8" />
<line x1="209.50" y1="452.20" x2="214.10" y2="452.20" stroke="#9a98cf" stroke-width="0.8" />
<circle cx="211.8" cy="449.2" r="1.0" fill="#9a98cf"/>
<line x1="237.40" y1="455.80" x2="237.40" y2="458.20" stroke="#9a98cf" stroke-width="0.8" />
<line x1="235.10" y1="455.80" x2="239.70" y2="455.80" stroke="#9a98cf" stroke-width="0.8" />
<line x1="235.10" y1="458.20" x2="239.70" y2="458.20" stroke="#9a98cf" stroke-width="0.8" />
<circle cx="237.4" cy="457.0" r="1.0" fill="#9a98cf"/>
<line x1="263.00" y1="504.20" x2="263.00" y2="506.60" stroke="#9a98cf" stroke-width="0.8" />
<line x1="260.70" y1="504.20" x2="265.30" y2="504.20" stroke="#9a98cf" stroke-width="0.8" />
<line x1="260.70" y1="506.60" x2="265.30" y2="506.60" stroke="#9a98cf" stroke-width="0.8" />
<circle cx="263.0" cy="505.4" r="1.0" fill="#9a98cf"/>
<line x1="288.60" y1="534.40" x2="288.60" y2="535.60" stroke="#9a98cf" stroke-width="0.8" />
<line x1="286.30" y1="534.40" x2="290.90" y2="534.40" stroke="#9a98cf" stroke-width="0.8" />
<line x1="286.30" y1="535.60" x2="290.90" y2="535.60" stroke="#9a98cf" stroke-width="0.8" />
<circle cx="288.6" cy="535.0" r="1.0" fill="#9a98cf"/>
<polyline points="186.1,461.3 211.8,461.3 237.4,470.7 263.0,537.7 288.6,556.0" fill="none" stroke="#4aac3f" stroke-width="1.1"/>
<line x1="186.10" y1="460.10" x2="186.10" y2="462.50" stroke="#4aac3f" stroke-width="0.8" />
<line x1="183.80" y1="460.10" x2="188.40" y2="460.10" stroke="#4aac3f" stroke-width="0.8" />
<line x1="183.80" y1="462.50" x2="188.40" y2="462.50" stroke="#4aac3f" stroke-width="0.8" />
<circle cx="186.1" cy="461.3" r="1.0" fill="#4aac3f"/>
<line x1="211.80" y1="460.70" x2="211.80" y2="461.90" stroke="#4aac3f" stroke-width="0.8" />
<line x1="209.50" y1="460.70" x2="214.10" y2="460.70" stroke="#4aac3f" stroke-width="0.8" />
<line x1="209.50" y1="461.90" x2="214.10" y2="461.90" stroke="#4aac3f" stroke-width="0.8" />
<circle cx="211.8" cy="461.3" r="1.0" fill="#4aac3f"/>
<line x1="237.40" y1="468.30" x2="237.40" y2="473.10" stroke="#4aac3f" stroke-width="0.8" />
<line x1="235.10" y1="468.30" x2="239.70" y2="468.30" stroke="#4aac3f" stroke-width="0.8" />
<line x1="235.10" y1="473.10" x2="239.70" y2="473.10" stroke="#4aac3f" stroke-width="0.8" />
<circle cx="237.4" cy="470.7" r="1.0" fill="#4aac3f"/>
<line x1="263.00" y1="535.50" x2="263.00" y2="539.90" stroke="#4aac3f" stroke-width="0.8" />
<line x1="260.70" y1="535.50" x2="265.30" y2="535.50" stroke="#4aac3f" stroke-width="0.8" />
<line x1="260.70" y1="539.90" x2="265.30" y2="539.90" stroke="#4aac3f" stroke-width="0.8" />
<circle cx="263.0" cy="537.7" r="1.0" fill="#4aac3f"/>
<line x1="288.60" y1="555.40" x2="288.60" y2="556.60" stroke="#4aac3f" stroke-width="0.8" />
<line x1="286.30" y1="555.40" x2="290.90" y2="555.40" stroke="#4aac3f" stroke-width="0.8" />
<line x1="286.30" y1="556.60" x2="290.90" y2="556.60" stroke="#4aac3f" stroke-width="0.8" />
<circle cx="288.6" cy="556.0" r="1.0" fill="#4aac3f"/>
<polyline points="186.1,456.1 211.8,454.8 237.4,457.5 263.0,477.9 288.6,493.3" fill="none" stroke="#24447a" stroke-width="1.1"/>
<line x1="186.10" y1="454.90" x2="186.10" y2="457.30" stroke="#24447a" stroke-width="0.8" />
<line x1="183.80" y1="454.90" x2="188.40" y2="454.90" stroke="#24447a" stroke-width="0.8" />
<line x1="183.80" y1="457.30" x2="188.40" y2="457.30" stroke="#24447a" stroke-width="0.8" />
<circle cx="186.1" cy="456.1" r="1.0" fill="#24447a"/>
<line x1="211.80" y1="454.20" x2="211.80" y2="455.40" stroke="#24447a" stroke-width="0.8" />
<line x1="209.50" y1="454.20" x2="214.10" y2="454.20" stroke="#24447a" stroke-width="0.8" />
<line x1="209.50" y1="455.40" x2="214.10" y2="455.40" stroke="#24447a" stroke-width="0.8" />
<circle cx="211.8" cy="454.8" r="1.0" fill="#24447a"/>
<line x1="237.40" y1="456.50" x2="237.40" y2="458.50" stroke="#24447a" stroke-width="0.8" />
<line x1="235.10" y1="456.50" x2="239.70" y2="456.50" stroke="#24447a" stroke-width="0.8" />
<line x1="235.10" y1="458.50" x2="239.70" y2="458.50" stroke="#24447a" stroke-width="0.8" />
<circle cx="237.4" cy="457.5" r="1.0" fill="#24447a"/>
<line x1="263.00" y1="476.50" x2="263.00" y2="479.30" stroke="#24447a" stroke-width="0.8" />
<line x1="260.70" y1="476.50" x2="265.30" y2="476.50" stroke="#24447a" stroke-width="0.8" />
<line x1="260.70" y1="479.30" x2="265.30" y2="479.30" stroke="#24447a" stroke-width="0.8" />
<circle cx="263.0" cy="477.9" r="1.0" fill="#24447a"/>
<line x1="288.60" y1="491.90" x2="288.60" y2="494.70" stroke="#24447a" stroke-width="0.8" />
<line x1="286.30" y1="491.90" x2="290.90" y2="491.90" stroke="#24447a" stroke-width="0.8" />
<line x1="286.30" y1="494.70" x2="290.90" y2="494.70" stroke="#24447a" stroke-width="0.8" />
<circle cx="288.6" cy="493.3" r="1.0" fill="#24447a"/>
<line x1="186.20" y1="602.60" x2="193.80" y2="602.60" stroke="#4aac3f" stroke-width="0.9" />
<circle cx="190" cy="602.6" r="1.0" fill="#4aac3f"/>
<line x1="186.20" y1="613.50" x2="193.80" y2="613.50" stroke="#24447a" stroke-width="0.9" />
<circle cx="190" cy="613.5" r="1.0" fill="#24447a"/>
<line x1="238.00" y1="602.30" x2="245.60" y2="602.30" stroke="#9a98cf" stroke-width="0.9" />
<circle cx="241.8" cy="602.3" r="1.0" fill="#9a98cf"/>
<text x="197.4" y="605.1" font-size="7" text-anchor="start" fill="#231f20" >WT</text>
<text x="197.4" y="615.9" font-size="7" text-anchor="start" fill="#231f20" ><tspan font-style="italic">NPRL2</tspan> KO</text>
<text x="249.2" y="605.0" font-size="7" text-anchor="start" fill="#231f20" ><tspan font-style="italic">NPRL2</tspan> KO +</text>
<text x="249.2" y="613.4" font-size="7" text-anchor="start" fill="#231f20" ><tspan font-style="italic">NPRL2</tspan> WT</text>
<text x="320.4" y="424.3" font-size="10.6" text-anchor="start" fill="#000" stroke="#000" stroke-width="0.25" font-weight="bold" >E</text>
<line x1="349.30" y1="433.00" x2="349.30" y2="567.70" stroke="#231f20" stroke-width="1.1" />
<line x1="346.60" y1="567.20" x2="349.30" y2="567.20" stroke="#231f20" stroke-width="0.9" />
<text x="343.8" y="569.5" font-size="6.8" text-anchor="end" fill="#231f20" >0</text>
<line x1="346.60" y1="511.25" x2="349.30" y2="511.25" stroke="#231f20" stroke-width="0.9" />
<text x="343.8" y="513.5500000000001" font-size="6.8" text-anchor="end" fill="#231f20" >0.5</text>
<line x1="346.60" y1="455.30" x2="349.30" y2="455.30" stroke="#231f20" stroke-width="0.9" />
<text x="343.8" y="457.6000000000001" font-size="6.8" text-anchor="end" fill="#231f20" >1.0</text>
<line x1="348.80" y1="567.20" x2="497.00" y2="567.20" stroke="#231f20" stroke-width="1.1" />
<line x1="423.00" y1="433.00" x2="423.00" y2="567.20" stroke="#5a5a5a" stroke-width="1.1" />
<rect x="353.10" y="455.20" width="10.00" height="112.00" fill="#c8102e" />
<rect x="371.70" y="556.90" width="9.60" height="10.30" fill="#3aa6db" />
<rect x="390.40" y="526.70" width="9.60" height="40.50" fill="#f39019" />
<rect x="409.20" y="566.70" width="9.40" height="0.50" fill="#e5157a" />
<rect x="427.20" y="454.80" width="9.70" height="112.40" fill="#c8102e" />
<rect x="445.70" y="461.00" width="9.60" height="106.20" fill="#3aa6db" />
<rect x="463.90" y="498.70" width="9.90" height="68.50" fill="#f39019" />
<rect x="482.00" y="556.50" width="10.10" height="10.70" fill="#e5157a" />
<line x1="358.10" y1="454.00" x2="358.10" y2="456.40" stroke="#111" stroke-width="0.8" />
<line x1="356.50" y1="454.00" x2="359.70" y2="454.00" stroke="#111" stroke-width="0.8" />
<line x1="356.50" y1="456.40" x2="359.70" y2="456.40" stroke="#111" stroke-width="0.8" />
<line x1="376.50" y1="556.20" x2="376.50" y2="557.60" stroke="#111" stroke-width="0.8" />
<line x1="374.90" y1="556.20" x2="378.10" y2="556.20" stroke="#111" stroke-width="0.8" />
<line x1="374.90" y1="557.60" x2="378.10" y2="557.60" stroke="#111" stroke-width="0.8" />
<line x1="395.20" y1="523.80" x2="395.20" y2="530.60" stroke="#111" stroke-width="0.8" />
<line x1="393.00" y1="523.80" x2="397.40" y2="523.80" stroke="#111" stroke-width="0.8" />
<line x1="393.00" y1="530.60" x2="397.40" y2="530.60" stroke="#111" stroke-width="0.8" />
<circle cx="394.6" cy="524.8" r="0.9" fill="#222"/>
<circle cx="396.0" cy="527.6" r="0.9" fill="#222"/>
<circle cx="394.9" cy="530.0" r="0.9" fill="#222"/>
<line x1="410.50" y1="566.30" x2="417.30" y2="566.30" stroke="#222" stroke-width="0.9" />
<line x1="432.00" y1="453.60" x2="432.00" y2="456.00" stroke="#111" stroke-width="0.8" />
<line x1="430.40" y1="453.60" x2="433.60" y2="453.60" stroke="#111" stroke-width="0.8" />
<line x1="430.40" y1="456.00" x2="433.60" y2="456.00" stroke="#111" stroke-width="0.8" />
<line x1="450.50" y1="457.60" x2="450.50" y2="464.20" stroke="#111" stroke-width="0.8" />
<line x1="448.30" y1="457.60" x2="452.70" y2="457.60" stroke="#111" stroke-width="0.8" />
<line x1="448.30" y1="464.20" x2="452.70" y2="464.20" stroke="#111" stroke-width="0.8" />
<circle cx="450.3" cy="458.6" r="0.9" fill="#222"/>
<circle cx="450.6" cy="461.4" r="0.9" fill="#222"/>
<circle cx="450.2" cy="463.4" r="0.9" fill="#222"/>
<line x1="468.80" y1="497.80" x2="468.80" y2="499.60" stroke="#111" stroke-width="0.8" />
<line x1="467.20" y1="497.80" x2="470.40" y2="497.80" stroke="#111" stroke-width="0.8" />
<line x1="467.20" y1="499.60" x2="470.40" y2="499.60" stroke="#111" stroke-width="0.8" />
<line x1="487.00" y1="555.80" x2="487.00" y2="557.20" stroke="#111" stroke-width="0.8" />
<line x1="485.40" y1="555.80" x2="488.60" y2="555.80" stroke="#111" stroke-width="0.8" />
<line x1="485.40" y1="557.20" x2="488.60" y2="557.20" stroke="#111" stroke-width="0.8" />
<line x1="386.20" y1="567.20" x2="386.20" y2="569.80" stroke="#231f20" stroke-width="0.8" />
<line x1="460.00" y1="567.20" x2="460.00" y2="569.80" stroke="#231f20" stroke-width="0.8" />
<text x="386.2" y="579.7" font-size="7.4" text-anchor="middle" fill="#231f20" >WT</text>
<text x="459.7" y="579.7" font-size="7.4" text-anchor="middle" fill="#231f20" ><tspan font-style="italic">NPRL2</tspan> KO</text>
<text x="0" y="0" font-size="8.3" text-anchor="middle" fill="#231f20" stroke="#231f20" stroke-width="0.28" transform="translate(327.4 500.05) rotate(-90)" textLength="106.4" lengthAdjust="spacingAndGlyphs">Viability relative to DMSO-treated cells</text>
<line x1="358.30" y1="436.30" x2="413.10" y2="436.30" stroke="#222" stroke-width="0.9" />
<text x="385.8" y="435.1" font-size="6.2" text-anchor="middle" fill="#111" >*</text>
<line x1="358.30" y1="443.70" x2="395.40" y2="443.70" stroke="#222" stroke-width="0.9" />
<text x="376.9" y="442.5" font-size="6.2" text-anchor="middle" fill="#111" >*</text>
<line x1="358.30" y1="450.80" x2="376.90" y2="450.80" stroke="#222" stroke-width="0.9" />
<text x="367.9" y="449.6" font-size="6.2" text-anchor="middle" fill="#111" >*</text>
<line x1="395.80" y1="503.50" x2="413.50" y2="503.50" stroke="#222" stroke-width="0.9" />
<text x="404.4" y="502.3" font-size="6.2" text-anchor="middle" fill="#111" >*</text>
<line x1="377.50" y1="511.20" x2="413.50" y2="511.20" stroke="#222" stroke-width="0.9" />
<text x="395.4" y="510.0" font-size="6.2" text-anchor="middle" fill="#111" >*</text>
<line x1="377.50" y1="519.40" x2="395.40" y2="519.40" stroke="#222" stroke-width="0.9" />
<text x="386.2" y="518.1999999999999" font-size="6.2" text-anchor="middle" fill="#111" >*</text>
<line x1="432.20" y1="433.70" x2="486.20" y2="433.70" stroke="#222" stroke-width="0.9" />
<text x="459.3" y="432.5" font-size="6.2" text-anchor="middle" fill="#111" >*</text>
<line x1="432.20" y1="441.20" x2="468.70" y2="441.20" stroke="#222" stroke-width="0.9" />
<text x="450.3" y="440.0" font-size="6.2" text-anchor="middle" fill="#111" >*</text>
<line x1="432.20" y1="448.30" x2="449.50" y2="448.30" stroke="#222" stroke-width="0.9" />
<line x1="453.00" y1="448.30" x2="486.20" y2="448.30" stroke="#222" stroke-width="0.9" />
<text x="469.8" y="447.1" font-size="6.2" text-anchor="middle" fill="#111" >*</text>
<line x1="449.50" y1="455.30" x2="467.40" y2="455.30" stroke="#222" stroke-width="0.9" />
<text x="458.4" y="454.1" font-size="6.2" text-anchor="middle" fill="#111" >*</text>
<line x1="469.00" y1="493.10" x2="486.30" y2="493.10" stroke="#222" stroke-width="0.9" />
<text x="477.7" y="491.90000000000003" font-size="6.2" text-anchor="middle" fill="#111" >*</text>
<text x="466.1" y="478.1" font-size="7.3" text-anchor="start" fill="#231f20" >*<tspan font-style="italic">P</tspan> &lt; .001</text>
<rect x="373.00" y="586.90" width="5.60" height="5.40" fill="#c8102e" />
<rect x="373.00" y="597.70" width="5.60" height="5.40" fill="#3aa6db" />
<rect x="409.60" y="586.90" width="5.60" height="5.40" fill="#f39019" />
<rect x="409.60" y="597.70" width="5.60" height="5.40" fill="#e5157a" />
<text x="381.9" y="592.4" font-size="7" text-anchor="start" fill="#231f20" >DMSO</text>
<text x="381.9" y="603.1" font-size="7" text-anchor="start" fill="#231f20" >Dex</text>
<text x="418.0" y="592.4" font-size="7" text-anchor="start" fill="#231f20" >RMC-5552</text>
<text x="418.0" y="603.1" font-size="7" text-anchor="start" fill="#231f20" >Dex + RMC-5552</text>
<rect x="0" y="0" width="520" height="1" fill="#6a6a6a"/>
<rect x="0" y="0" width="1.1" height="624" fill="#5e5e5e"/>
<rect x="518.8" y="0" width="1.2" height="624" fill="#555"/>
<rect x="0" y="622.5" width="520" height="1.5" fill="#4e4e4e"/>
</svg>
</body></html>
